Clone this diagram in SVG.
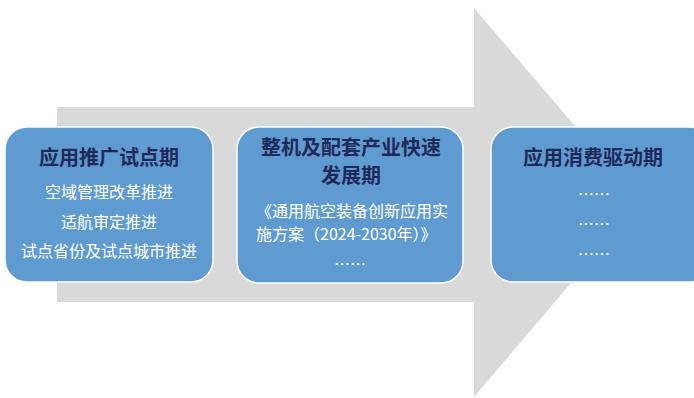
<svg xmlns="http://www.w3.org/2000/svg" width="694" height="398" viewBox="0 0 694 398">
<style>
.box{fill:#5f9bd0;stroke:#ffffff;stroke-width:1.5}
.t{font-family:"Noto Sans CJK SC","Noto Sans",sans-serif;font-size:20px;font-weight:bold;fill:#1f2a5a;text-anchor:middle}
.b{font-family:"Noto Sans CJK SC","Noto Sans",sans-serif;font-size:16px;fill:#ffffff;text-anchor:middle}
.bl{font-family:"Noto Sans CJK SC","Noto Sans",sans-serif;font-size:16px;fill:#ffffff}
</style>
<rect width="694" height="398" fill="#ffffff"/>
<g id="arrow">
<polygon points="57,107 474,107 474,8 640,202 474,397 474,302 57,302" fill="#d9d9d9"/>
</g>
<g id="node1">
<rect class="box" x="5" y="127" width="208" height="155" rx="22"/>
<text class="t" x="109" y="165">应用推广试点期</text>
<text class="b" x="109" y="198">空域管理改革推进</text>
<text class="b" x="109" y="228">适航审定推进</text>
<text class="b" x="109" y="257">试点省份及试点城市推进</text>
</g>
<g id="node2">
<rect class="box" x="237" y="127" width="226" height="156" rx="22"/>
<text class="t" x="351" y="155">整机及配套产业快速</text>
<text class="t" x="351" y="183">发展期</text>
<text class="bl" x="256" y="217" textLength="192">《通用航空装备创新应用实</text>
<text class="bl" x="256" y="240">施方案（2024-2030年）》</text>
<text class="b" x="350" y="270">……</text>
</g>
<g id="node3">
<rect class="box" x="491" y="127" width="220" height="155" rx="22"/>
<text class="t" x="593" y="165">应用消费驱动期</text>
<text class="b" x="594" y="200">……</text>
<text class="b" x="594" y="230">……</text>
<text class="b" x="594" y="260">……</text>
</g>
<g id="connectors"></g>
</svg>
